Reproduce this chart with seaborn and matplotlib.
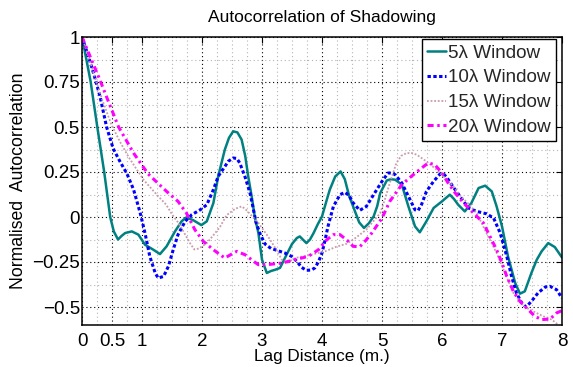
import numpy as np
import pandas as pd
import matplotlib
matplotlib.use("Agg")
import matplotlib.pyplot as plt
from matplotlib.ticker import MultipleLocator, FixedLocator
import seaborn as sns

# ---------------- data ----------------
x5 = [0, 0.07, 0.145, 0.255, 0.37, 0.47, 0.53, 0.6, 0.66, 0.72, 0.83, 0.94, 1.05, 1.19, 1.3,
      1.41, 1.55, 1.66, 1.74, 1.86, 1.99, 2.08, 2.19, 2.27, 2.38, 2.45, 2.52, 2.59, 2.66, 2.72,
      2.77, 2.83, 2.88, 2.94, 3.0, 3.08, 3.15, 3.22, 3.3, 3.41, 3.5, 3.58, 3.63, 3.68, 3.74,
      3.8, 3.86, 3.93, 4.0, 4.08, 4.13, 4.22, 4.31, 4.38, 4.45, 4.55, 4.62, 4.7, 4.78, 4.86,
      4.92, 4.97, 5.08, 5.15, 5.22, 5.33, 5.44, 5.55, 5.63, 5.74, 5.86, 6.0, 6.13, 6.2, 6.27,
      6.38, 6.49, 6.61, 6.72, 6.83, 6.91, 7.0, 7.1, 7.22, 7.3, 7.38, 7.49, 7.58, 7.66, 7.77,
      7.88, 8.0]
y5 = [1.0, 0.88, 0.75, 0.5, 0.25, 0.0, -0.08, -0.125, -0.105, -0.089, -0.08, -0.098, -0.154,
      -0.182, -0.206, -0.163, -0.08, -0.024, -0.002, -0.019, -0.045, -0.024, 0.078, 0.226,
      0.374, 0.44, 0.476, 0.47, 0.43, 0.34, 0.226, 0.11, 0.0, -0.089, -0.237, -0.311, -0.3,
      -0.293, -0.283, -0.209, -0.15, -0.117, -0.108, -0.125, -0.145, -0.125, -0.089, -0.04,
      0.003, 0.096, 0.152, 0.225, 0.253, 0.21, 0.12, 0.031, -0.03, -0.061, -0.035, 0.003,
      0.06, 0.133, 0.203, 0.21, 0.207, 0.18, 0.059, -0.052, -0.085, -0.024, 0.05, 0.087,
      0.124, 0.1, 0.068, 0.031, 0.078, 0.161, 0.174, 0.142, 0.059, -0.052, -0.219, -0.367,
      -0.426, -0.413, -0.311, -0.237, -0.191, -0.145, -0.167, -0.225]

x10 = [0, 0.1, 0.2, 0.3, 0.41, 0.52, 0.63, 0.75, 0.86, 0.97, 1.05, 1.13, 1.22, 1.27, 1.36,
       1.44, 1.52, 1.6, 1.72, 1.83, 1.97, 2.08, 2.19, 2.27, 2.36, 2.44, 2.52, 2.58, 2.63, 2.72,
       2.8, 2.84, 2.9, 2.97, 3.05, 3.15, 3.22, 3.38, 3.5, 3.58, 3.66, 3.74, 3.82, 3.88, 3.94,
       4.0, 4.05, 4.1, 4.19, 4.3, 4.38, 4.45, 4.52, 4.63, 4.74, 4.86, 5.0, 5.1, 5.16, 5.22,
       5.33, 5.44, 5.55, 5.6, 5.66, 5.74, 5.86, 5.97, 6.04, 6.1, 6.19, 6.3, 6.44, 6.58, 6.74,
       6.86, 6.97, 7.08, 7.16, 7.24, 7.33, 7.4, 7.49, 7.6, 7.72, 7.8, 7.91, 8.0]
y10 = [1.0, 0.9, 0.79, 0.67, 0.5, 0.38, 0.31, 0.24, 0.152, 0.022, -0.089, -0.219, -0.311,
       -0.339, -0.33, -0.274, -0.182, -0.098, -0.024, 0.013, 0.04, 0.068, 0.152, 0.226, 0.27,
       0.31, 0.328, 0.325, 0.3, 0.22, 0.133, 0.07, -0.03, -0.095, -0.15, -0.175, -0.182, -0.2,
       -0.22, -0.246, -0.28, -0.296, -0.295, -0.283, -0.25, -0.2, -0.13, -0.052, 0.059, 0.124,
       0.137, 0.12, 0.078, 0.037, 0.059, 0.124, 0.198, 0.244, 0.245, 0.235, 0.189, 0.115,
       0.04, 0.035, 0.07, 0.142, 0.198, 0.24, 0.235, 0.21, 0.165, 0.115, 0.05, 0.031, 0.018,
       -0.006, -0.089, -0.219, -0.33, -0.422, -0.478, -0.5, -0.469, -0.422, -0.389, -0.385,
       -0.404, -0.45]

x15 = [0, 0.1, 0.21, 0.35, 0.49, 0.63, 0.77, 0.9, 1.03, 1.15, 1.27, 1.4, 1.5, 1.6, 1.69,
       1.8, 1.87, 1.95, 2.08, 2.22, 2.3, 2.41, 2.55, 2.66, 2.72, 2.82, 2.94, 3.1, 3.24, 3.33,
       3.42, 3.55, 3.83, 4.05, 4.24, 4.4, 4.52, 4.74, 4.97, 5.05, 5.13, 5.24, 5.32, 5.41, 5.5,
       5.58, 5.74, 5.91, 6.08, 6.19, 6.3, 6.45, 6.58, 6.74, 6.91, 7.05, 7.19, 7.36, 7.52, 7.69,
       7.83, 7.94, 8.0]
y15 = [1.0, 0.9, 0.78, 0.64, 0.513, 0.42, 0.337, 0.27, 0.205, 0.16, 0.115, 0.07, 0.015,
       -0.03, -0.08, -0.145, -0.18, -0.175, -0.145, -0.089, -0.055, 0.01, 0.045, 0.059, 0.045,
       0.01, -0.033, -0.108, -0.182, -0.237, -0.255, -0.228, -0.209, -0.191, -0.165, -0.15,
       -0.126, -0.07, 0.022, 0.1, 0.189, 0.3, 0.34, 0.355, 0.355, 0.346, 0.309, 0.263, 0.207,
       0.17, 0.12, 0.07, 0.022, -0.089, -0.2, -0.311, -0.422, -0.496, -0.524, -0.552, -0.57,
       -0.6, -0.62]

x20 = [0, 0.15, 0.3, 0.43, 0.61, 0.86, 1.1, 1.41, 1.6, 1.74, 1.88, 2.02, 2.19, 2.38, 2.5,
       2.58, 2.72, 2.86, 2.94, 3.08, 3.33, 3.55, 3.77, 3.94, 4.08, 4.19, 4.3, 4.42, 4.52, 4.63,
       4.73, 4.83, 5.0, 5.13, 5.33, 5.49, 5.66, 5.77, 5.88, 6.0, 6.1, 6.22, 6.36, 6.5, 6.69,
       6.8, 6.91, 7.0, 7.08, 7.19, 7.3, 7.41, 7.55, 7.66, 7.8, 7.91, 8.0]
y20 = [1.0, 0.88, 0.76, 0.65, 0.5, 0.355, 0.24, 0.142, 0.087, 0.022, -0.07, -0.135, -0.182,
       -0.228, -0.205, -0.191, -0.21, -0.246, -0.265, -0.265, -0.256, -0.237, -0.219, -0.182,
       -0.126, -0.098, -0.098, -0.13, -0.163, -0.165, -0.13, -0.089, -0.006, 0.087, 0.18,
       0.226, 0.272, 0.3, 0.291, 0.244, 0.19, 0.133, 0.078, 0.03, -0.033, -0.108, -0.182,
       -0.256, -0.33, -0.413, -0.469, -0.506, -0.552, -0.57, -0.567, -0.533, -0.52]

labels = ["5λ Window", "10λ Window", "15λ Window", "20λ Window"]
x_ticks = [0, 0.5, 1, 2, 3, 4, 5, 6, 7, 8]
x_tick_labels = ["0", "0.5", "1", "2", "3", "4", "5", "6", "7", "8"]
y_ticks = [-0.5, -0.25, 0, 0.25, 0.5, 0.75, 1]
y_tick_labels = ["\u22120.5", "\u22120.25", "0", "0.25", "0.5", "0.75", "1"]

# ---------------- styling ----------------
sns.set_theme(style="white")
plt.rcParams["font.family"] = ["Liberation Sans", "DejaVu Sans"]

fig = plt.figure(figsize=(5.73, 3.67), dpi=100)
ax = fig.add_axes([82 / 573, 1 - 325 / 367, 480 / 573, 288 / 367])

series = [
    (x5, y5, dict(color="#008080", linestyle="-", linewidth=1.8)),
    (x10, y10, dict(color="#0000ff", linestyle=(0, (1.1, 0.8)), linewidth=2.2)),
    (x15, y15, dict(color="#c99aaa", linestyle=(0, (1, 1)), linewidth=1.3)),
    (x20, y20, dict(color="#ff00ff", linestyle=(0, (2.0, 1.2, 0.8, 1.2)), linewidth=2.2)),
]
for (xs, ys, st), lab in zip(series, labels):
    df = pd.DataFrame({"lag": xs, "r": ys})
    sns.lineplot(data=df, x="lag", y="r", ax=ax, estimator=None, sort=False,
                 label=lab, **st)

ax.set_xlim(0, 8)
ax.set_ylim(-0.6, 1)
ax.xaxis.set_major_locator(FixedLocator(x_ticks))
ax.set_xticklabels(x_tick_labels)
ax.yaxis.set_major_locator(FixedLocator(y_ticks))
ax.set_yticklabels(y_tick_labels)
ax.xaxis.set_minor_locator(MultipleLocator(0.25))
ax.yaxis.set_minor_locator(MultipleLocator(0.125))

ax.set_axisbelow(True)
ax.grid(which="major", color="black", linestyle=(0, (1, 2.5)), linewidth=0.8)
ax.grid(which="minor", color="#b5b5b5", linestyle=(0, (1, 2.5)), linewidth=0.8)

ax.tick_params(which="major", direction="in", top=True, right=True, length=4,
               width=0.8, color="black", labelsize=13.5, labelcolor="black")
ax.tick_params(axis="x", which="major", pad=6)
ax.tick_params(axis="y", which="major", pad=1.5)
ax.tick_params(which="minor", length=0)
for sp in ax.spines.values():
    sp.set_visible(True)
    sp.set_color("black")
    sp.set_linewidth(1.1)

ax.set_title("Autocorrelation of Shadowing", fontsize=12.5, pad=11, color="black")
ax.set_xlabel("Lag Distance (m.)", fontsize=12.3, labelpad=-1, color="black")
ax.set_ylabel("Normalised  Autocorrelation", fontsize=12.7, labelpad=4, color="black")

leg = ax.legend(loc="upper right", bbox_to_anchor=(0.9875, 0.992), borderaxespad=0,
                fontsize=13.6, frameon=True, fancybox=False, framealpha=1,
                edgecolor="black", handlelength=1.0, handletextpad=0.1,
                labelspacing=0.4, borderpad=0.27)
leg.get_frame().set_linewidth(1.0)

fig.savefig("out.png", dpi=100)
